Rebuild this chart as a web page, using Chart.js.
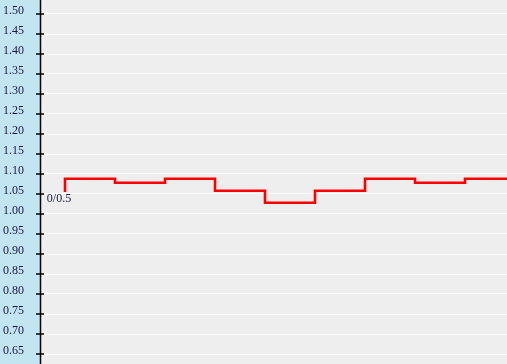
<!DOCTYPE html>
<html>
<head>
<meta charset="utf-8">
<script src="https://cdn.jsdelivr.net/npm/chart.js@4"></script>
<style>
  html, body { margin: 0; padding: 0; background: #eeeeee; }
  #wrap { width: 507px; height: 364px; }
</style>
</head>
<body>
<div id="wrap"><canvas id="steps"></canvas></div>
<script>
// data
const xValues = [0, 1, 2, 3, 4, 5, 6, 7, 8, 9];
const yValues = [1.055, 1.088, 1.078, 1.088, 1.058, 1.028, 1.058, 1.088, 1.078, 1.088];
const yTicks = [0.65, 0.70, 0.75, 0.80, 0.85, 0.90, 0.95, 1.00, 1.05, 1.10,
  1.15, 1.20, 1.25, 1.30, 1.35, 1.40, 1.45, 1.50];
const startLabel = "0/0.5";

const steps = document.getElementById("steps");

// blue strip behind the y axis, grey plot area
const backdrop = {
  id: "backdrop",
  beforeDraw(chart) {
    const { ctx, chartArea } = chart;
    ctx.save();
    ctx.fillStyle = "#c2e5f1";
    ctx.fillRect(0, 0, chartArea.left, chart.height);
    ctx.fillStyle = "#eeeeee";
    ctx.fillRect(chartArea.left, 0, chart.width - chartArea.left, chart.height);
    ctx.restore();
  },
  afterDraw(chart) {
    const { ctx, chartArea } = chart;
    const y = chart.scales.y;
    ctx.save();
    // axis line and tick marks crossing it
    ctx.strokeStyle = "#000";
    ctx.lineWidth = 1.5;
    ctx.beginPath();
    ctx.moveTo(chartArea.left + 0.5, 0);
    ctx.lineTo(chartArea.left + 0.5, chart.height);
    ctx.stroke();
    ctx.lineWidth = 1.3;
    ctx.beginPath();
    yTicks.forEach((v) => {
      const py = Math.round(y.getPixelForValue(v));
      ctx.moveTo(chartArea.left - 4, py);
      ctx.lineTo(chartArea.left + 4, py);
    });
    ctx.stroke();
    // label at first point
    const p0 = chart.getDatasetMeta(0).data[0];
    ctx.fillStyle = "#1a1a40";
    ctx.font = "12px 'Liberation Serif'";
    ctx.textAlign = "center";
    ctx.textBaseline = "middle";
    ctx.fillText(startLabel, p0.x - 6, p0.y + 7);
    ctx.restore();
  },
};

new Chart(steps, {
  type: "line",
  data: {
    datasets: [
      {
        data: xValues.map((x, i) => ({ x: x, y: yValues[i] })),
        borderColor: "#ff0000",
        borderWidth: 2.6,
        stepped: "after",
        pointRadius: 0,
        fill: false,
      },
    ],
  },
  options: {
    responsive: true,
    maintainAspectRatio: false,
    animation: false,
    layout: { padding: 0 },
    plugins: {
      legend: { display: false },
      tooltip: { enabled: false },
    },
    scales: {
      x: {
        type: "linear",
        min: -0.5,
        max: 8.84,
        display: false,
      },
      y: {
        min: 0.625,
        max: 1.535,
        afterFit(scale) {
          scale.width = 40;
          scale.paddingTop = 0;
          scale.paddingBottom = 0;
        },
        afterBuildTicks(scale) {
          scale.ticks = yTicks.map((v) => ({ value: v }));
        },
        border: { display: false },
        grid: {
          color: "#ffffff",
          lineWidth: 1,
          drawTicks: false,
        },
        ticks: {
          padding: 16,
          labelOffset: -3,
          color: "#1a1a40",
          font: { family: "'Liberation Serif'", size: 12 },
          callback: (v) => v.toFixed(2),
        },
      },
    },
  },
  plugins: [backdrop],
});
</script>
</body>
</html>
